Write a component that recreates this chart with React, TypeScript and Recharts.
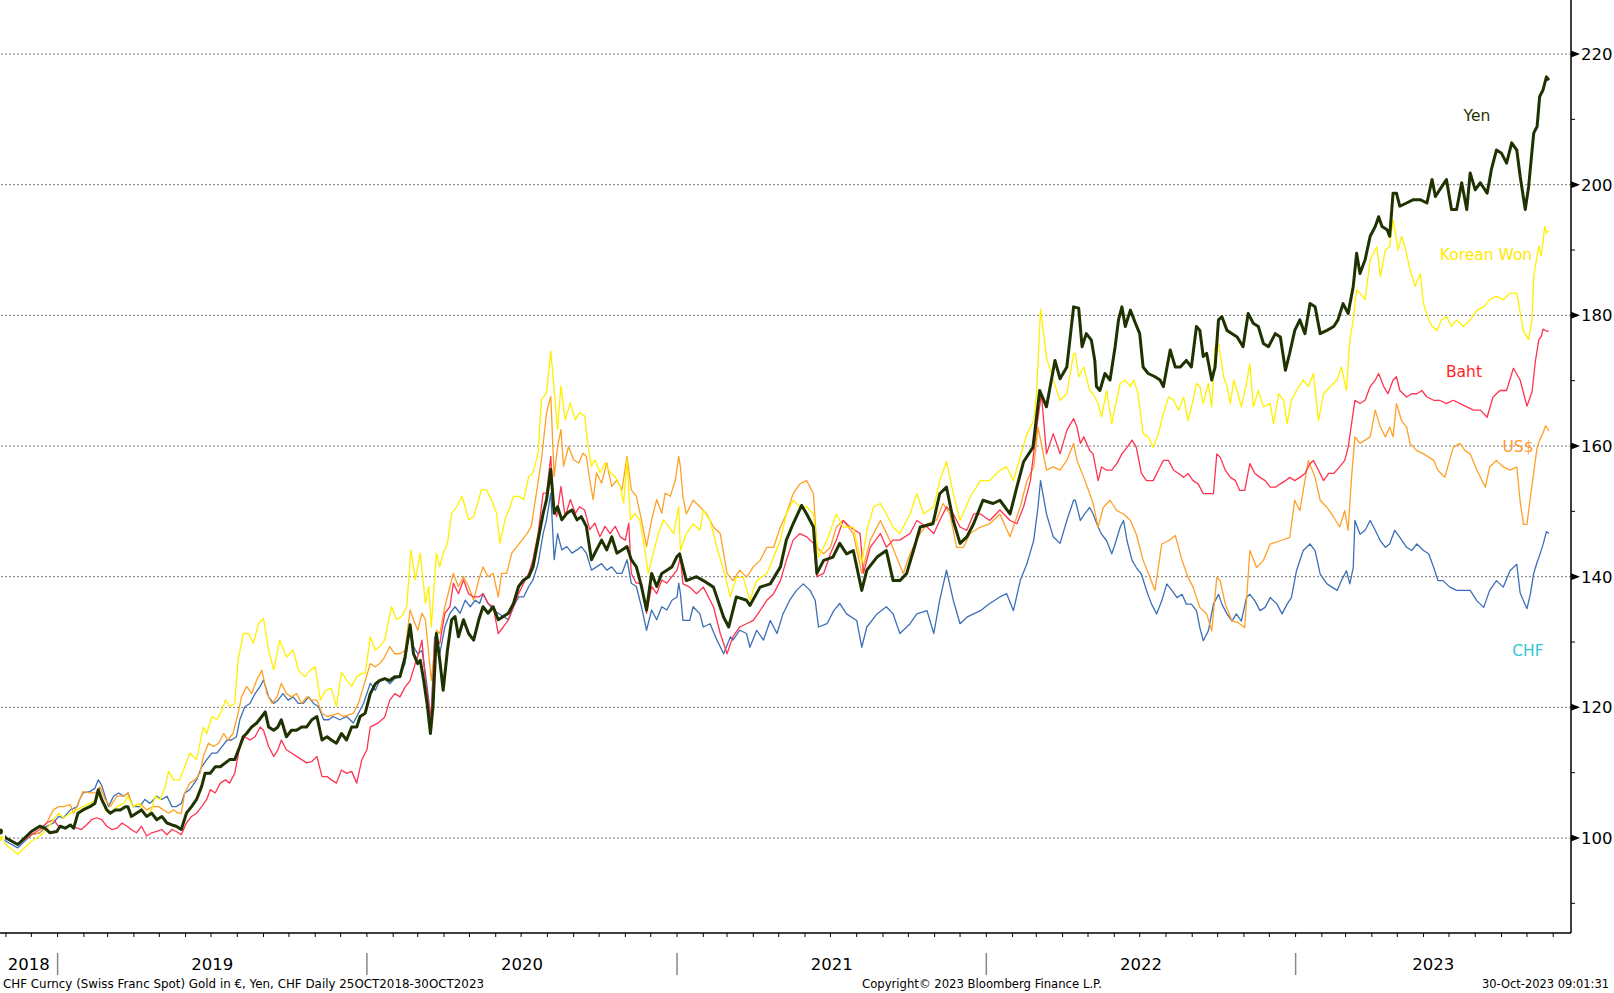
import { LineChart, Line, XAxis, YAxis, ReferenceLine } from "recharts"

// All sample times are days counted from 25 Oct 2018 (first day of the chart)

// ---- Oct 2018 - Dec 2020 ----
const yenEarlyDays = [
  0, 7, 21, 37,
  47, 53, 59, 67, 71, 77, 83, 87, 92, 98, 106, 112, 116, 120, 126, 130, 136, 142, 148, 151,
  155, 161, 167, 173, 179, 185, 191, 197, 203, 208, 214, 220, 226, 232, 238, 242, 248, 254, 260, 266,
  271, 277, 283, 287, 291, 297, 303, 309, 313, 317, 323, 328, 332, 338, 344, 350, 356, 362, 368, 374,
  380, 386, 391, 397, 403, 409, 415, 421, 425, 431, 437,
  443, 448, 454, 460, 466, 472, 478, 484, 488, 493, 496, 500, 504, 508, 511, 515, 519, 523, 528, 533,
  537, 541, 547, 553, 559, 565, 570, 576, 582, 588, 594, 600, 606, 612, 618, 624, 629, 635, 641, 645,
  650, 654, 658, 663, 669, 675, 681, 686, 692, 698, 704, 710, 716, 722, 728, 734, 740, 745, 751, 757,
  763, 769, 775, 781, 787, 793, 799,
]
const yenEarly = [
  101, 100, 99, 101,
  101.8, 101.5, 100.8, 101, 101.8, 101.5, 102, 101.5, 103.8, 104.3, 104.8, 105.3, 107.4, 105.9, 104.3, 103.8, 104.3, 104.3, 104.8, 104.8,
  103.3, 103.8, 104.3, 103.3, 103.8, 102.8, 103.3, 102.3, 102, 101.8, 101.3, 103.8, 104.8, 105.9, 107.9, 109.9, 109.9, 110.9, 110.9, 111.5,
  112, 112, 114, 115.5, 116, 117, 117.6, 118.6, 119.3, 117, 116.5, 117, 118.1, 115.5, 116.5, 116.5, 117, 117, 118.1, 118.6,
  115, 115.5, 115, 114.5, 116, 115, 117, 117, 118.6, 119.1, 122.1,
  123.6, 124.1, 124.4, 124.1, 124.7, 124.7, 127.7, 132.6, 128.2, 126.7, 127.2, 124.1, 120.6, 116, 120.1, 131.3, 127.2, 122.6, 128.7, 133.4,
  133.9, 130.8, 133.4, 131.3, 130.3, 133.4, 135.4, 134.4, 135.4, 133.4, 133.9, 134.4, 135.9, 138.5, 139.5, 140, 141.5, 145.6, 149.7, 151.8,
  156.4, 149.7, 150.7, 148.7, 149.7, 150.2, 148.7, 149.2, 147.7, 142.6, 144.1, 145.6, 144.1, 146.1, 143.6, 144.1, 144.6, 142.6, 141.5, 138.5,
  134.9, 140.5, 138.5, 140.5, 141, 141.5, 143.1,
]

const wonEarlyDays = [
  0, 7, 21, 37,
  47, 55, 63, 69, 75, 83, 91, 98, 106, 114, 118, 124, 130, 138, 146, 151, 157, 165, 169, 173,
  179, 183, 189, 195, 199, 205, 212, 218, 224, 232, 240, 244, 250, 256, 262, 266, 271, 277, 281, 287,
  293, 299, 305, 311, 317, 323, 330, 338, 346, 352, 360, 366, 372, 378, 384, 391, 397, 403, 409, 415,
  421, 427, 431, 437,
  443, 448, 454, 462, 468, 474, 480, 485, 490, 496, 502, 506, 509, 515, 519, 523, 528, 533, 539, 545,
  549, 553, 559, 565, 568, 574, 580, 586, 590, 596, 602, 606, 612, 618, 624, 629, 635, 639, 645, 650,
  655, 658, 662, 667, 673, 679, 684, 690, 694, 698, 702, 708, 714, 720, 726, 732, 736, 740, 744, 749,
  755, 761, 765, 771, 777, 783, 789, 795, 801,
]
const wonEarly = [
  100, 99, 97.5, 99.5,
  100.3, 101.3, 102.8, 103.8, 103.1, 103.8, 104.3, 104.8, 105.3, 105.9, 106.9, 104.3, 103.8, 104.8, 105.3, 106.4, 104.8, 105.3, 103.8, 103.3,
  104.3, 106.4, 105.9, 107.9, 110.2, 108.9, 108.9, 110.9, 113, 112, 117, 116, 118.6, 118.1, 119.6, 121.1, 120.1, 120.6, 127.2, 131.3,
  131.3, 129.8, 132.8, 133.6, 128.8, 125.7, 130.3, 127.7, 128.8, 125.7, 124.7, 125.7, 126.2, 121.1, 122.6, 122.9, 120.1, 125.4, 124.2, 123.2,
  124.7, 125.2, 125.2, 130.8,
  128.7, 129.3, 130.3, 135.4, 133.4, 133.9, 135.4, 144.1, 139.5, 143.6, 135.9, 138.5, 132.3, 143.6, 141.5, 143.6, 145.1, 149.7, 150.7, 152.3,
  150.7, 148.7, 149.2, 151.8, 153.3, 153.3, 151.8, 149.7, 145.1, 148.7, 150.7, 152.3, 152.3, 151.8, 155.3, 155.9, 158.9, 167.1, 168.1, 174.5,
  167.1, 162.5, 169.2, 164, 166.6, 164, 165.1, 164.6, 159.9, 156.9, 157.9, 155.9, 157.4, 155.9, 155.3, 153.8, 151.3, 157.9, 148.7, 149.7,
  148.7, 144.1, 140.5, 143.6, 146.6, 148.7, 147.7, 146.6, 150.7,
]

const bahtEarlyDays = [
  0, 7, 21, 37,
  47, 55, 63, 69, 75, 83, 91, 96, 102, 108, 114, 120, 126, 132, 138, 144, 150, 155, 161, 167,
  173, 179, 185, 191, 197, 203, 208, 214, 220, 226, 232, 238, 244, 248, 254, 260, 266, 271, 277, 283,
  289, 295, 301, 307, 311, 317, 323, 328, 332, 338, 344, 350, 356, 362, 368, 374, 380, 386, 391, 397,
  403, 409, 415, 421, 427, 433, 437,
  445, 454, 460, 466, 472, 478, 484, 490, 494, 498, 502, 506, 509, 513, 519, 525, 531, 535, 541, 547,
  553, 559, 565, 570, 576, 582, 588, 594, 600, 606, 612, 618, 624, 629, 635, 641, 645, 650, 653, 657,
  662, 667, 673, 679, 684, 690, 696, 702, 708, 714, 720, 726, 732, 738, 742, 745, 751, 757, 763, 769,
  775, 781, 787, 793, 799,
]
const bahtEarly = [
  100.5, 100, 99, 100.5,
  101.3, 102.3, 102.8, 101.8, 101.5, 101.8, 101.5, 101.3, 102, 102.8, 103.1, 102.8, 101.8, 101.3, 101.5, 102.3, 101.8, 101.3, 100.8, 101.8,
  100.3, 100.8, 101, 101.3, 100.5, 101.3, 101, 100.5, 102.3, 103.3, 103.8, 104.8, 105.9, 107.4, 106.9, 108.4, 108.9, 108.4, 109.9, 114,
  115.5, 115, 115.5, 117, 116.5, 114, 112.5, 113.5, 115, 113.5, 113, 112.5, 112, 111.5, 111.7, 112.5, 109.4, 109.4, 108.9, 108.4,
  110.4, 109.9, 110.2, 108.4, 112, 113.5, 117,
  117.5, 118.5, 121.1, 122.1, 121.6, 123.1, 124.1, 126.7, 128.2, 130.3, 124.1, 120.6, 118.5, 130.3, 129.8, 134.4, 135.4, 139, 137.4, 139.5,
  137.4, 136.9, 136.9, 137.4, 135.9, 135.4, 131.3, 132.3, 133.4, 135.4, 137.4, 139, 140.5, 142.6, 146.6, 152.8, 152.8, 158.4, 150.7, 149.2,
  153.8, 149.2, 151.8, 149.7, 150.7, 150.2, 147.2, 148.2, 146.1, 147.7, 146.6, 147.7, 146.1, 145.6, 148.2, 140.5, 139, 139, 134.4, 138.5,
  137.4, 139.5, 139, 140, 141,
]

const usdEarlyDays = [
  0, 7, 21, 37,
  47, 55, 63, 69, 75, 83, 87, 94, 98, 106, 114, 118, 124, 130, 138, 146, 151, 157, 165, 173,
  181, 187, 193, 199, 205, 210, 214, 218, 224, 230, 236, 240, 246, 252, 258, 264, 269, 275, 281, 285,
  291, 297, 303, 309, 315, 321, 327, 332, 338, 344, 350, 356, 362, 368, 374, 380, 386, 393, 399, 405,
  411, 417, 423, 429, 437,
  443, 448, 454, 460, 466, 472, 478, 484, 488, 493, 498, 502, 509, 515, 519, 525, 531, 535, 541, 547,
  553, 559, 565, 570, 576, 582, 588, 592, 598, 604, 610, 616, 622, 627, 633, 639, 645, 650, 654, 658,
  662, 665, 671, 677, 683, 688, 692, 696, 700, 704, 710, 716, 722, 728, 734, 740, 745, 751, 757, 763,
  769, 775, 781, 785, 791, 797, 801,
]
const usdEarly = [
  100.5, 100, 99, 100.5,
  100.8, 102.3, 104.3, 104.8, 104.8, 105.1, 103.8, 105.9, 107.1, 106.9, 106.9, 107.9, 105.9, 104.8, 106.4, 106.4, 106.9, 104.8, 105.3, 104.3,
  104.8, 104.8, 104.3, 103.8, 104.3, 103.8, 103.8, 106.9, 108.4, 108.9, 109.9, 112.5, 114.5, 114, 114.5, 116, 115, 116, 119.1, 121.6,
  123.2, 122.1, 124.2, 125.7, 122.1, 120.6, 121.6, 123.7, 122.1, 121.6, 122.1, 120.6, 121.6, 121.1, 121.1, 119.1, 118.6, 118.8, 119.1, 118.6,
  118.8, 119.1, 120.6, 123.2, 126.7,
  126.2, 126.7, 127.7, 129.3, 128.2, 128.2, 128.7, 134.9, 133.4, 131.8, 134.4, 133.4, 124.1, 131.8, 131.3, 135.4, 138.5, 140.5, 138.5, 140,
  138.5, 136.4, 139.5, 141.5, 140, 140.5, 136.9, 140.5, 140.5, 143.6, 144.6, 145.6, 146.6, 147.7, 152.8, 157.9, 165.1, 167.6, 155.3, 159.9,
  162.5, 156.9, 159.9, 157.9, 157.4, 158.9, 158.4, 154.8, 151.8, 155.9, 154.3, 157.4, 153.8, 154.8, 153.3, 158.4, 153.3, 152.3, 148.7, 144.6,
  148.7, 151.8, 149.7, 152.8, 152.3, 154.8, 158.4,
]

const chfEarlyDays = [
  0, 7, 21, 37,
  47, 55, 63, 69, 75, 83, 91, 94, 98, 106, 112, 116, 120, 124, 128, 134, 140, 146, 151, 157,
  165, 171, 177, 185, 191, 197, 203, 208, 214, 218, 224, 232, 238, 244, 250, 256, 262, 268, 273, 279,
  283, 289, 295, 301, 307, 311, 317, 323, 328, 334, 340, 346, 352, 358, 364, 370, 376, 382, 388, 393,
  401, 409, 417, 423, 429, 437,
  443, 448, 454, 460, 466, 472, 478, 484, 488, 493, 498, 502, 506, 508, 513, 519, 525, 531, 537, 543,
  549, 555, 561, 566, 570, 576, 582, 588, 594, 600, 606, 612, 618, 624, 629, 635, 641, 645, 650, 654,
  658, 663, 669, 675, 681, 686, 692, 698, 704, 710, 716, 722, 728, 734, 740, 745, 751, 757, 763, 769,
  775, 781, 787, 793, 799, 801,
]
const chfEarly = [
  100.5, 99.5, 98.5, 100.5,
  100.8, 101.8, 102.3, 103.3, 103.1, 104.3, 104.8, 105.9, 106.9, 107.1, 107.6, 108.9, 108.1, 106.4, 104.8, 106.4, 106.9, 106.4, 106.9, 104.8,
  104.8, 105.9, 105.3, 106.4, 105.9, 106.4, 104.8, 104.8, 105.3, 106.9, 107.4, 108.9, 110.9, 112, 113, 113, 114, 115, 115, 115.5,
  118.1, 120.1, 120.6, 122.1, 123.2, 124.2, 121.6, 120.6, 121.1, 122.1, 121.1, 121.6, 120.6, 120.6, 121.6, 120.6, 120.1, 118.1, 118.1, 118.6,
  118.1, 118.6, 117.6, 119.1, 120.6, 123.7,
  122.6, 124.1, 124.4, 123.6, 124.4, 124.7, 126.7, 132.8, 129.3, 128.2, 128.7, 125.2, 121.1, 116.5, 130.8, 128.2, 132.3, 134.4, 135.4, 134.4,
  136.4, 135.4, 136.4, 135.9, 137.4, 135.9, 134.9, 134.4, 133.9, 133.4, 135.4, 136.9, 136.9, 138.5, 139.5, 142, 146.6, 148.7, 152.8, 142.6,
  146.6, 144.1, 144.6, 143.6, 144.1, 144.6, 143.6, 141, 141.5, 142, 141, 141.5, 140.5, 140.5, 142.6, 139, 138.5, 135.4, 131.8, 134.9,
  133.4, 135.4, 134.9, 136.4, 136.9, 139,
]

// ---- Jan 2021 - Oct 2023 ----
const yenLateDays = [
  802, 810, 822, 830, 842, 854, 860, 869, 881, 885, 897, 909, 921, 928, 936, 946, 952, 960,
  964, 972, 983, 991, 999, 1007, 1017, 1023, 1035, 1046, 1054, 1062, 1070, 1078, 1086, 1101,
  1109, 1117, 1125, 1133, 1141, 1149, 1160, 1172, 1180, 1192, 1200, 1208, 1219, 1227, 1235,
  1245, 1251, 1259, 1267,
  1273, 1277, 1282, 1288, 1292, 1294, 1298, 1304, 1310, 1316, 1320, 1324, 1328, 1334, 1340,
  1345, 1349, 1355, 1363, 1369, 1373, 1381, 1387, 1393, 1400, 1406, 1412, 1416, 1420, 1424,
  1430, 1434, 1438, 1442, 1448, 1454, 1460, 1467, 1473, 1479, 1485, 1491, 1497, 1505, 1511,
  1517, 1522, 1528, 1534, 1540, 1546, 1552, 1558, 1566, 1574, 1579, 1585, 1591, 1597, 1601,
  1605, 1611, 1617, 1623, 1627, 1631, 1637, 1640, 1644, 1648, 1652, 1660, 1668, 1676, 1684,
  1690, 1694, 1699, 1707, 1713, 1719, 1725, 1731, 1735, 1741, 1747, 1755, 1758,
  1760, 1766, 1772, 1778, 1784, 1790, 1794, 1800, 1804, 1810, 1814, 1817, 1821, 1825, 1828,
]
const yenLate = [
  143.5, 139.4, 140, 139.4, 138.4, 133.8, 132.3, 136.9, 136.4, 135.6, 138.4, 138.9, 141.5, 145.6,
  148.1, 150.9, 149.6, 147.6, 140.5, 142.5, 143, 145.1, 143.5, 144, 137.9, 141, 143, 144, 139.4,
  139.4, 140.5, 144, 147.6, 148.1, 152.7, 153.7, 148.6, 145.1, 146.1, 148.1, 151.7, 151.2, 151.7,
  149.6, 153.7, 157.6, 159.8, 168.5, 166, 173.1, 170.3, 172.1, 181.3,
  181.1, 175.2, 177.2, 176.2, 173.1, 169.1, 168.5, 171.1, 170.1, 175.2, 179.3, 181.3, 178.3, 180.8,
  178.8, 177.2, 172.1, 171.1, 170.6, 170.1, 169.1, 174.7, 172.1, 172.1, 173.1, 172.1, 178.3, 177.7,
  173.7, 174.2, 170.1, 172.1, 179.3, 179.8, 177.7, 177.2, 176.7, 175.2, 180.3, 178.8, 178.3, 175.7,
  175.2, 177.2, 176.7, 171.6, 174.2, 177.7, 179.3, 177.2, 181.8, 181.3, 177.2, 177.7, 178.3, 179.3,
  181.8, 180.3, 184.4, 189.5, 186.4, 188.5, 192.1, 193.6, 195.1, 193.6, 193.1, 192.1, 198.7, 198.7,
  196.7, 197.2, 197.7, 197.7, 197.2, 200.8, 198.2, 199.2, 200.8, 196.2, 196.2, 200.3, 196.2, 201.8,
  199.2, 200.3, 198.7, 200.8,
  202.3, 205.3, 204.8, 203.3, 206.4, 205.3, 201.3, 196.2, 199.7, 207.9, 208.9, 213.5, 214.5, 216.5, 216,
]

const wonLateDays = [
  803, 810, 818, 826, 830, 838, 846, 854, 862, 869, 877, 885, 893, 905, 913, 921, 928, 936, 944,
  952, 960, 966, 976, 987, 995, 1007, 1017, 1023, 1031, 1039, 1046, 1054, 1062, 1074, 1082, 1090,
  1102, 1109, 1117, 1125, 1133, 1145, 1157, 1168, 1180, 1188, 1196, 1204, 1212, 1220, 1223, 1228,
  1235, 1243, 1251, 1259, 1267,
  1269, 1273, 1279, 1286, 1290, 1296, 1300, 1306, 1312, 1316, 1322, 1328, 1334, 1338, 1343, 1349,
  1355, 1361, 1367, 1373, 1379, 1385, 1391, 1397, 1402, 1408, 1412, 1416, 1420, 1426, 1430, 1434,
  1438, 1444, 1448, 1452, 1456, 1461, 1465, 1471, 1475, 1479, 1485, 1491, 1499, 1503, 1509, 1515,
  1519, 1524, 1530, 1538, 1544, 1550, 1556, 1562, 1570, 1578, 1583, 1589, 1593, 1597, 1601, 1605,
  1611, 1617, 1625, 1629, 1635, 1640, 1644, 1650, 1654, 1658, 1664, 1670, 1676, 1680, 1686, 1690,
  1696, 1701, 1707, 1713, 1719, 1727, 1735, 1743, 1751, 1758, 1766, 1774, 1782, 1790,
  1794, 1798, 1804, 1808, 1810, 1816, 1819, 1823, 1825, 1828,
]
const wonLate = [
  144, 146.6, 148.1, 147.1, 150.2, 148.6, 144.5, 141, 136.9, 139.9, 139.9, 136.4, 139.4, 140.5,
  143, 145.6, 149.6, 151.7, 150.7, 150.7, 149.6, 143, 145.6, 149.6, 147.6, 147.6, 142, 147.1,
  150.7, 151.2, 149.6, 147.6, 146.6, 149.6, 152.7, 149.6, 150.7, 154.7, 157.6, 152.7, 148.6, 152.2,
  154.7, 154.7, 156.3, 156.8, 154.7, 158.3, 161.9, 163.9, 167.5, 181, 173.6, 170.1, 167, 168, 174.1,
  174.2, 170.6, 172.1, 168.5, 168, 166.5, 164.5, 168.5, 163.4, 166, 169.6, 170.1, 169.1, 170.1,
  168, 161.9, 161.4, 159.8, 161.9, 165, 167.5, 167, 165.5, 167.5, 163.9, 167, 169.6, 169.1, 166.5,
  169.6, 166, 175.2, 175.7, 170.6, 169.1, 166.5, 170.1, 168, 166, 169.6, 172.6, 166, 168.5, 166,
  166.5, 163.4, 168, 167, 163.4, 167, 168.5, 170.1, 169.1, 171.1, 163.9, 168, 169.1, 170.1, 172.1,
  168.5, 176.2, 179.3, 183.9, 183.4, 182.4, 188.5, 190.5, 185.9, 190, 190.5, 194.6, 190, 192.1,
  190.5, 187, 184.4, 186.4, 181.8, 179.3, 178.3, 177.7, 179.3, 179.8, 178.3, 179.3, 178.3, 179.3,
  180.8, 181.3, 182.4, 182.9, 182.4, 183.4, 183.4,
  180.4, 177.5, 176.3, 179.4, 186, 190.6, 189.1, 193.6, 192.6, 193,
]

const bahtLateDays = [
  803, 806, 814, 822, 830, 842, 850, 858, 865, 873, 881, 889, 897, 905, 913, 921, 928, 936, 944,
  952, 960, 964, 972, 980, 987, 995, 1003, 1015, 1019, 1027, 1039, 1046, 1054, 1062, 1074, 1082,
  1094, 1102, 1109, 1117, 1125, 1133, 1141, 1149, 1157, 1168, 1180, 1192, 1200, 1208, 1216, 1223,
  1229, 1235, 1243, 1251, 1259, 1267,
  1271, 1275, 1279, 1286, 1290, 1296, 1300, 1306, 1312, 1318, 1324, 1330, 1336, 1341, 1347, 1353,
  1361, 1367, 1373, 1379, 1385, 1391, 1397, 1402, 1408, 1414, 1420, 1426, 1432, 1436, 1440, 1446,
  1452, 1458, 1463, 1469, 1475, 1481, 1487, 1493, 1499, 1505, 1511, 1517, 1522, 1528, 1534, 1540,
  1546, 1550, 1556, 1562, 1568, 1574, 1581, 1587, 1591, 1595, 1599, 1605, 1611, 1617, 1623, 1627,
  1633, 1638, 1644, 1648, 1652, 1660, 1666, 1672, 1678, 1684, 1692, 1699, 1707, 1715, 1723, 1731,
  1739, 1747, 1755, 1762, 1770, 1778, 1786, 1794,
  1802, 1808, 1812, 1816, 1819, 1821, 1825, 1828,
]
const bahtLate = [
  143, 138.9, 138.4, 137.4, 138.4, 135.4, 131.3, 128.2, 130.8, 132.3, 132.8, 133.3, 134.8, 136.4,
  137.4, 139.4, 142.5, 145.6, 146.6, 146.1, 145.1, 140, 140.5, 143.5, 145.6, 148.6, 147.6, 146.6,
  140.5, 144.5, 146.6, 144.5, 145.6, 145.6, 146.6, 148.6, 147.6, 146.6, 148.6, 150.7, 149.6, 147.6,
  147.1, 149.6, 149.6, 148.6, 150.2, 148.6, 148.1, 150.7, 154.7, 162.4, 168, 158.8, 161.9, 158.8,
  162.4, 164.2,
  162.9, 160.4, 161.4, 159.3, 158.8, 154.7, 156.8, 156.3, 156.3, 157.3, 158.8, 159.8, 160.9, 159.8,
  155.8, 154.7, 154.7, 156.3, 157.8, 157.8, 156.3, 155.8, 155.2, 155.8, 154.7, 154.2, 152.7, 152.7,
  152.7, 158.8, 158.3, 156.3, 155.2, 154.7, 153.2, 153.2, 157.3, 155.8, 155.2, 154.7, 153.7, 153.7,
  154.2, 154.7, 155.2, 154.7, 155.2, 155.8, 157.3, 157.8, 156.3, 154.7, 155.8, 155.8, 156.8, 157.8,
  159.8, 163.4, 167, 166.5, 167, 169.1, 170.1, 171.1, 169.1, 168, 170.1, 170.6, 168.5, 167.5, 168,
  168, 168.5, 167.5, 167, 167, 166.5, 167, 166.5, 166, 165.5, 165.5, 164.4, 167.5, 168.5, 168.5,
  171.9, 170.1,
  166.1, 168.3, 173, 176.3, 176.8, 177.9, 177.6, 177.6,
]

const usdLateDays = [
  803, 806, 810, 818, 826, 834, 842, 850, 858, 865, 873, 881, 889, 897, 905, 913, 921, 928, 936,
  944, 952, 960, 964, 972, 980, 987, 995, 1007, 1017, 1027, 1039, 1050, 1058, 1066, 1074, 1086,
  1094, 1105, 1113, 1121, 1129, 1137, 1145, 1157, 1168, 1180, 1192, 1204, 1212, 1220, 1225, 1235,
  1243, 1251, 1259, 1267,
  1271, 1279, 1286, 1290, 1296, 1302, 1310, 1318, 1326, 1334, 1341, 1349, 1357, 1363, 1371, 1379,
  1387, 1395, 1402, 1408, 1416, 1424, 1430, 1436, 1440, 1446, 1454, 1461, 1469, 1475, 1483, 1491,
  1499, 1511, 1522, 1528, 1534, 1544, 1552, 1558, 1566, 1574, 1581, 1587, 1591, 1595, 1599, 1605,
  1617, 1623, 1629, 1635, 1640, 1644, 1648, 1654, 1660, 1664, 1672, 1680, 1686, 1692, 1697, 1705,
  1715, 1723, 1729, 1735, 1743, 1753, 1758, 1766, 1774, 1782, 1790,
  1794, 1798, 1802, 1806, 1810, 1814, 1817, 1821, 1824, 1828,
]
const usdLate = [
  156.8, 152.2, 149.6, 151.7, 150.7, 149.6, 147.6, 146.6, 140.5, 139.4, 141, 139.9, 141.5, 142.5,
  144.5, 144.5, 147.6, 149.6, 152.7, 154.2, 154.7, 152.7, 144.5, 143.5, 144.5, 147.6, 148.6, 146.6,
  140.5, 145.6, 148.6, 145.6, 143, 140.5, 143.5, 146.6, 148.1, 148.6, 151.2, 149.6, 144.5, 144.5,
  146.6, 147.6, 148.1, 149.6, 146.1, 150.7, 154.7, 156.8, 162.9, 156.3, 156.8, 156.3, 157.8, 160.4,
  157.8, 155.2, 152.7, 151.2, 147.6, 150.6, 151.7, 150.1, 149.6, 148.6, 146.5, 142.5, 139.9, 137.9,
  145, 145.5, 146.3, 142.5, 139.9, 138.4, 135.3, 134.3, 131.7, 139.9, 139.4, 135.8, 133.2, 133,
  132.2, 144, 141.4, 142.5, 145, 145.5, 146, 151.7, 150.1, 157.8, 155.2, 151.7, 150.6, 149.1, 147.6,
  150.1, 147.1, 155.2, 161.4, 160.4, 161.4, 165.5, 162.9, 161.4, 162.9, 161.4, 166.5, 163.9, 162.9,
  160.4, 159.3, 158.8, 158.3, 157.8, 156.3, 155.2, 159.8, 160.4, 159.3, 158.8, 156.3, 153.7, 156.8,
  157.8, 156.8, 156.3, 156.8,
  151.5, 148, 148, 152.1, 155.9, 159.8, 160.9, 162, 163.1, 162.3,
]

const chfLateDays = [
  803, 806, 814, 818, 826, 830, 838, 846, 854, 862, 865, 873, 881, 885, 893, 901, 909, 917, 924,
  932, 940, 948, 956, 962, 966, 976, 984, 991, 999, 1011, 1017, 1023, 1035, 1046, 1054, 1062, 1074,
  1082, 1094, 1102, 1109, 1117, 1125, 1133, 1141, 1149, 1157, 1168, 1180, 1188, 1196, 1204, 1212,
  1220, 1225, 1228, 1235, 1243, 1251, 1259, 1267,
  1269, 1275, 1280, 1286, 1290, 1296, 1300, 1306, 1312, 1316, 1322, 1326, 1330, 1336, 1341, 1347,
  1353, 1359, 1365, 1371, 1377, 1383, 1389, 1395, 1400, 1406, 1412, 1416, 1420, 1426, 1432, 1438,
  1442, 1448, 1454, 1459, 1465, 1471, 1475, 1481, 1487, 1493, 1499, 1507, 1513, 1519, 1524, 1530,
  1538, 1546, 1552, 1558, 1566, 1572, 1578, 1583, 1589, 1593, 1597, 1599, 1605, 1611, 1617, 1623,
  1629, 1635, 1640, 1646, 1652, 1660, 1666, 1672, 1680, 1686, 1692, 1697, 1703, 1711, 1719, 1727,
  1735, 1743, 1751, 1758, 1766, 1774, 1782, 1790,
  1794, 1802, 1806, 1810, 1814, 1817, 1821, 1825, 1828,
]
const chfLate = [
  137.4, 133.3, 133.3, 135.4, 134.3, 132.3, 132.8, 130.3, 128.2, 130.8, 130.3, 131.8, 131.3, 129.2,
  131.8, 130.3, 133.3, 131.3, 134.3, 136.4, 137.9, 138.9, 137.9, 136.4, 132.3, 132.8, 134.8, 135.9,
  134.3, 133.3, 129.2, 132.3, 134.3, 135.4, 134.3, 131.3, 132.8, 134.3, 134.8, 131.3, 136.4, 141,
  136.4, 132.8, 133.8, 134.3, 134.8, 135.9, 136.9, 137.4, 134.8, 139.4, 142, 145.6, 150.7, 154.7,
  149.6, 146.1, 145.1, 148.6, 151.7,
  151.7, 148.6, 149.6, 150.6, 149.6, 147.6, 146.5, 145.5, 143.5, 145, 147.6, 148.6, 145.5, 142.5,
  141.4, 140.4, 137.9, 135.8, 134.3, 136.3, 138.9, 137.9, 136.8, 137.3, 135.8, 135.8, 134.8, 132.2,
  130.2, 131.7, 135.8, 137.3, 135.8, 134.3, 133.2, 134.3, 133.2, 136.8, 137.3, 136.3, 134.8, 135.3,
  136.8, 135.8, 134.3, 135.8, 136.8, 140.9, 144, 145, 144, 140.4, 138.9, 138.4, 137.9, 139.4, 140.9,
  138.9, 141.4, 148.6, 146.5, 147.1, 148.6, 147.1, 145.5, 144.5, 145, 147.1, 146, 144.5, 144, 145,
  144, 143.5, 141.4, 139.4, 139.4, 138.4, 137.9, 137.9, 137.9, 136.3, 135.3, 137.9, 139.4, 138.4,
  140.9, 141.9,
  137.5, 135.1, 137.3, 140.5, 142.2, 143.3, 144.9, 146.9, 146.6,
]

const yearLabels = ["2018", "2019", "2020", "2021", "2022", "2023"]
const yTicks = [90, 100, 110, 120, 130, 140, 150, 160, 170, 180, 190, 200, 210, 220]
const gridValues = [100, 120, 140, 160, 180, 200, 220]

const DAY = 86400000
const toTime = (s: string) => Date.parse(s + "T00:00:00Z")
const xStart = toTime("2018-10-25")
const xEnd = toTime("2023-11-22")

function buildSeries(days: number[], vals: number[]) {
  return days.map((d, i) => ({ t: xStart + d * DAY, v: vals[i] }))
}

const series = [
  { key: "chf", color: "#3d6fb6", width: 1.3, data: buildSeries([...chfEarlyDays, ...chfLateDays], [...chfEarly, ...chfLate]) },
  { key: "usd", color: "#ffa126", width: 1.3, data: buildSeries([...usdEarlyDays, ...usdLateDays], [...usdEarly, ...usdLate]) },
  { key: "baht", color: "#ff3352", width: 1.3, data: buildSeries([...bahtEarlyDays, ...bahtLateDays], [...bahtEarly, ...bahtLate]) },
  { key: "won", color: "#fff000", width: 1.3, data: buildSeries([...wonEarlyDays, ...wonLateDays], [...wonEarly, ...wonLate]) },
  { key: "yen", color: "#1f3300", width: 3, data: buildSeries([...yenEarlyDays, ...yenLateDays], [...yenEarly, ...yenLate]) },
]

const monthTicks: number[] = []
for (let y = 2018; y <= 2023; y++) {
  for (let m = 0; m < 12; m++) {
    const t = Date.UTC(y, m, 1)
    if (t > xStart && t < xEnd) monthTicks.push(t)
  }
}

// year labels sit in the middle of the visible part of each year
const yearMid = yearLabels.map((y) => {
  const a = Math.max(Date.UTC(+y, 0, 1), xStart)
  const b = Math.min(Date.UTC(+y + 1, 0, 1), xEnd)
  return Math.round((a + b) / 2)
})

const font = "DejaVu Sans, Verdana, sans-serif"

function XTick(props: any) {
  const { x, y, payload } = props
  const v = payload.value
  const yi = yearMid.indexOf(v)
  if (yi >= 0) {
    return (
      <text x={x} y={y + 37} textAnchor="middle" fontSize={16.5} fontFamily={font} fill="#000">
        {yearLabels[yi]}
      </text>
    )
  }
  const isJan = new Date(v).getUTCMonth() === 0
  return (
    <g>
      <line x1={x} x2={x} y1={y} y2={y + 4} stroke="#000" strokeWidth={1} />
      {isJan && <line x1={x} x2={x} y1={y + 20} y2={y + 42} stroke="#888" strokeWidth={1.5} />}
    </g>
  )
}

function YTick(props: any) {
  const { x, y, payload } = props
  const v = payload.value
  if (v % 20 === 0) {
    return (
      <g>
        <path d={`M${x},${y - 3.5} L${x + 9},${y} L${x},${y + 3.5} Z`} fill="#000" />
        <text x={x + 10} y={y} dy="0.36em" fontSize={16.5} fontFamily={font} fill="#000">
          {v}
        </text>
      </g>
    )
  }
  return <line x1={x} x2={x + 4} y1={y} y2={y} stroke="#000" strokeWidth={1} />
}

const labels = [
  { text: "Yen", x: 1477, y: 115, color: "#1f3300" },
  { text: "Korean Won", x: 1486, y: 254, color: "#ffe800" },
  { text: "Baht", x: 1464, y: 371, color: "#ff1f1f" },
  { text: "US$", x: 1518, y: 446, color: "#ff9a2e" },
  { text: "CHF", x: 1528, y: 650, color: "#33c6d4" },
]

export default function App() {
  return (
    <div style={{ position: "absolute", left: 0, top: 0, width: 1614, height: 993, background: "#fff" }}>
      <LineChart width={1614} height={993} margin={{ top: 0, right: 0, bottom: 0, left: 0 }}>
        {gridValues.map((v) => (
          <ReferenceLine key={v} y={v} stroke="#777" strokeDasharray="2 2" strokeWidth={1} />
        ))}
        <XAxis
          dataKey="t"
          type="number"
          domain={[xStart, xEnd]}
          allowDataOverflow
          ticks={[...monthTicks, ...yearMid]}
          interval={0}
          tick={<XTick />}
          tickLine={false}
          tickSize={0}
          tickMargin={0}
          height={60}
          axisLine={{ stroke: "#000", strokeWidth: 1.5 }}
        />
        <YAxis
          orientation="right"
          type="number"
          domain={[85.46, 228.27]}
          allowDataOverflow
          ticks={yTicks}
          interval={0}
          tick={<YTick />}
          tickLine={false}
          tickSize={0}
          tickMargin={0}
          width={43}
          axisLine={{ stroke: "#000", strokeWidth: 1.5 }}
        />
        {series.map((s) => (
          <Line
            key={s.key}
            name={s.key}
            data={s.data}
            dataKey="v"
            stroke={s.color}
            strokeWidth={s.width}
            strokeLinejoin="round"
            dot={false}
            isAnimationActive={false}
          />
        ))}
      </LineChart>
      <svg
        width={1614}
        height={993}
        style={{ position: "absolute", left: 0, top: 0, pointerEvents: "none" }}
      >
        {labels.map((l) => (
          <text
            key={l.text}
            x={l.x}
            y={l.y}
            dy="0.36em"
            textAnchor="middle"
            fontSize={15.5}
            fontFamily={font}
            fill={l.color}
          >
            {l.text}
          </text>
        ))}
        <text x={3} y={988} fontSize={12} fontFamily={font} textLength={481} lengthAdjust="spacingAndGlyphs">
          CHF Curncy (Swiss Franc Spot) Gold in €, Yen, CHF  Daily 25OCT2018-30OCT2023
        </text>
        <text x={862} y={988} fontSize={12} fontFamily={font} textLength={240} lengthAdjust="spacingAndGlyphs">
          Copyright© 2023 Bloomberg Finance L.P.
        </text>
        <text x={1482} y={988} fontSize={12} fontFamily={font} textLength={127} lengthAdjust="spacingAndGlyphs">
          30-Oct-2023 09:01:31
        </text>
      </svg>
    </div>
  )
}
